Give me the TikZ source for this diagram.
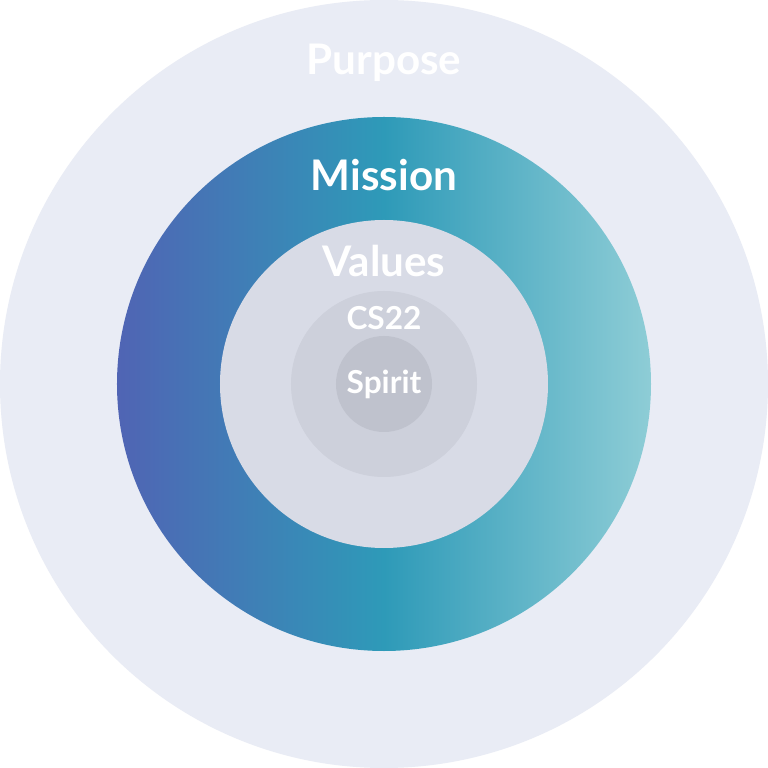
\documentclass[tikz,border=0pt]{standalone}
\usepackage{fontspec}
\setmainfont{Lato}
\usepackage{tikz}
\definecolor{purposebg}{RGB}{233,236,245}
\definecolor{valuesbg}{RGB}{216,219,230}
\definecolor{csbg}{RGB}{205,208,219}
\definecolor{spiritbg}{RGB}{191,194,205}
\definecolor{missionleft}{RGB}{80,100,180}
\definecolor{missionmid}{RGB}{46,154,184}
\definecolor{missionright}{RGB}{142,205,214}
\tikzset{
  ringlabel/.style={text=white,font=\bfseries\fontsize{24}{28}\selectfont},
  smalllabel/.style={text=white,font=\bfseries\fontsize{18}{22}\selectfont}
}

\begin{document}
\begin{tikzpicture}
    \useasboundingbox (-7.68,-7.68) rectangle (7.68,7.68);
    \fill[white] (-7.68,-7.68) rectangle (7.68,7.68);

    % Rings
    \fill[purposebg] (0,0) circle (7.68);
    \shade[left color=missionleft,right color=missionright,middle color=missionmid] (0,0) circle (5.34);
    \fill[valuesbg] (0,0) circle (3.28);
    \fill[csbg] (0,0) circle (1.86);
    \fill[spiritbg] (0,0) circle (0.96);

    % Labels
    \node[ringlabel] (purpose) at (0,6.42) {Purpose};
    \node[ringlabel] (mission) at (0,4.18) {Mission};
    \node[ringlabel] (values) at (0,2.46) {Values};
    \node[smalllabel] (cs) at (0,1.32) {CS22};
    \node[smalllabel] (spirit) at (0,0) {Spirit};
\end{tikzpicture}
\end{document}
